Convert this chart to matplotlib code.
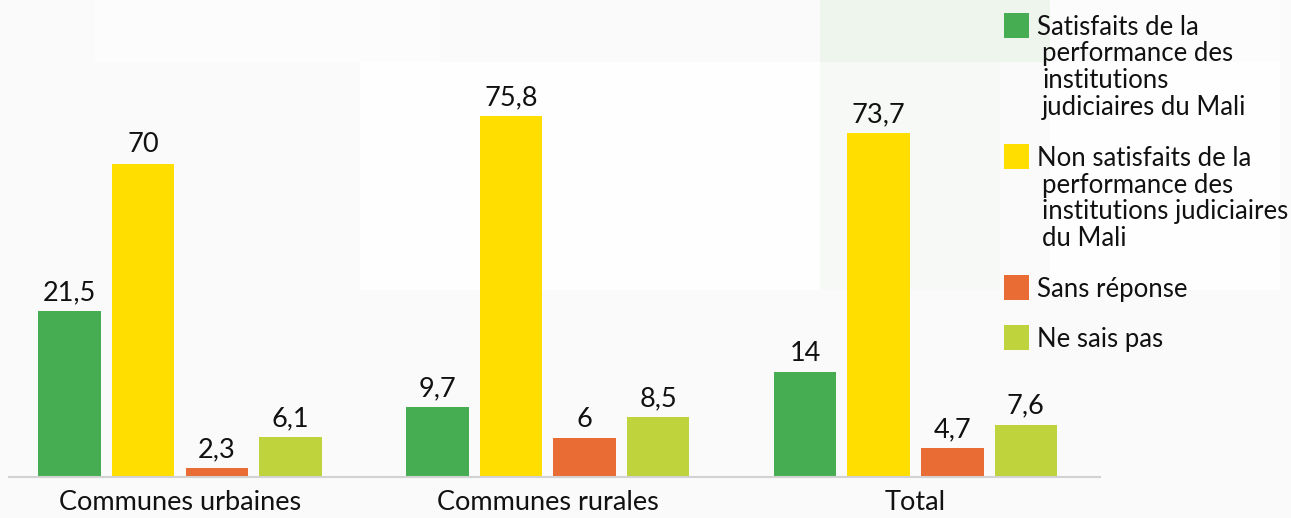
import matplotlib
matplotlib.use("Agg")
import matplotlib.pyplot as plt
import matplotlib.patches as mpatches
import numpy as np

plt.rcParams['font.family'] = ['Lato', 'DejaVu Sans']

# data
categories = ["Communes urbaines", "Communes rurales", "Total"]
series_names = [
    "Satisfaits de la\nperformance des\ninstitutions\njudiciaires du Mali",
    "Non satisfaits de la\nperformance des\ninstitutions judiciaires\ndu Mali",
    "Sans réponse",
    "Ne sais pas",
]
satisfaits = [21.5, 9.7, 14]
non_satisfaits = [70, 75.8, 73.7]
sans_reponse = [2.3, 6, 4.7]
ne_sais_pas = [6.1, 8.5, 7.6]
colors = ["#47AD52", "#FFDE00", "#E86C34", "#BFD33C"]

W, H = 1291, 518
fig = plt.figure(figsize=(W / 100, H / 100), dpi=100)
fig.patch.set_facecolor("#F9FAF9")


def px(x, y):
    # pixel coords (top-left origin) -> figure fraction
    return x / W, 1 - y / H


def box(x0, y0, x1, y1, color):
    fx, fy = px(x0, y1)
    fig.patches.append(mpatches.Rectangle((fx, fy), (x1 - x0) / W, (y1 - y0) / H,
                                          transform=fig.transFigure, color=color,
                                          zorder=-10, lw=0))


# soft background panels
box(95, 0, 440, 62, "#FCFCFC")
box(360, 62, 820, 290, "#FEFEFE")
box(820, 0, 1050, 62, "#EDF5ED")
box(820, 62, 1000, 290, "#F6F9F6")
box(1050, 62, 1280, 290, "#FEFEFE")
box(1050, 0, 1280, 62, "#FBFCFB")

ax = fig.add_axes([9 / W, 41 / H, (1100 - 9) / W, 477 / H])
ax.patch.set_alpha(0)

# the tall bars are shortened by a fixed gap so the small values stay readable
T0, GAP, EPS = 30.0, 30.5, 1e-3


def fwd(v):
    v = np.asarray(v, float)
    return np.where(v <= T0, v,
                    np.where(v >= T0 + GAP, v - GAP + EPS * GAP, T0 + (v - T0) * EPS))


def inv(u):
    u = np.asarray(u, float)
    return np.where(u <= T0, u,
                    np.where(u >= T0 + EPS * GAP, u + GAP - EPS * GAP, T0 + (u - T0) / EPS))


ax.set_yscale('function', functions=(fwd, inv))

x = np.arange(len(categories))
offsets = [-0.3, -0.1, 0.1, 0.3]
all_series = [satisfaits, non_satisfaits, sans_reponse, ne_sais_pas]
for vals, off, col in zip(all_series, offsets, colors):
    bars = ax.bar(x + off, vals, width=0.17, color=col, zorder=2)
    for b, v in zip(bars, vals):
        ax.annotate(f"{v:g}".replace(".", ","), (b.get_x() + b.get_width() / 2, v),
                    xytext=(0, 8), textcoords="offset points",
                    ha="center", va="baseline", fontsize=19.5, color="#111111")

ax.set_ylim(1.2, 90)
ax.set_xlim((9 - 180) / 367.75, (1100 - 180) / 367.75)
ax.set_xticks(x)
ax.set_xticklabels(categories, fontsize=19.5, color="#111111")
ax.tick_params(axis="x", length=0, pad=9)
ax.set_yticks([])
for s in ["left", "right", "top"]:
    ax.spines[s].set_visible(False)
ax.spines["bottom"].set_color("#D2D2D2")
ax.spines["bottom"].set_linewidth(1.5)

# legend drawn by hand: square + wrapped label with hanging indent
legend_tops = [13, 144, 275, 325]
for name, col, top in zip(series_names, colors, legend_tops):
    fx, fy = px(1004, top + 25)
    fig.patches.append(mpatches.Rectangle((fx, fy), 25 / W, 25 / H,
                                          transform=fig.transFigure, color=col, lw=0))
    for i, line in enumerate(name.split("\n")):
        tx, ty = px(1037 if i == 0 else 1042, top + 22 + 26.5 * i)
        fig.text(tx, ty, line, fontsize=18.5, color="#111111", va="baseline")

fig.savefig("out.png", dpi=100, facecolor=fig.get_facecolor())
